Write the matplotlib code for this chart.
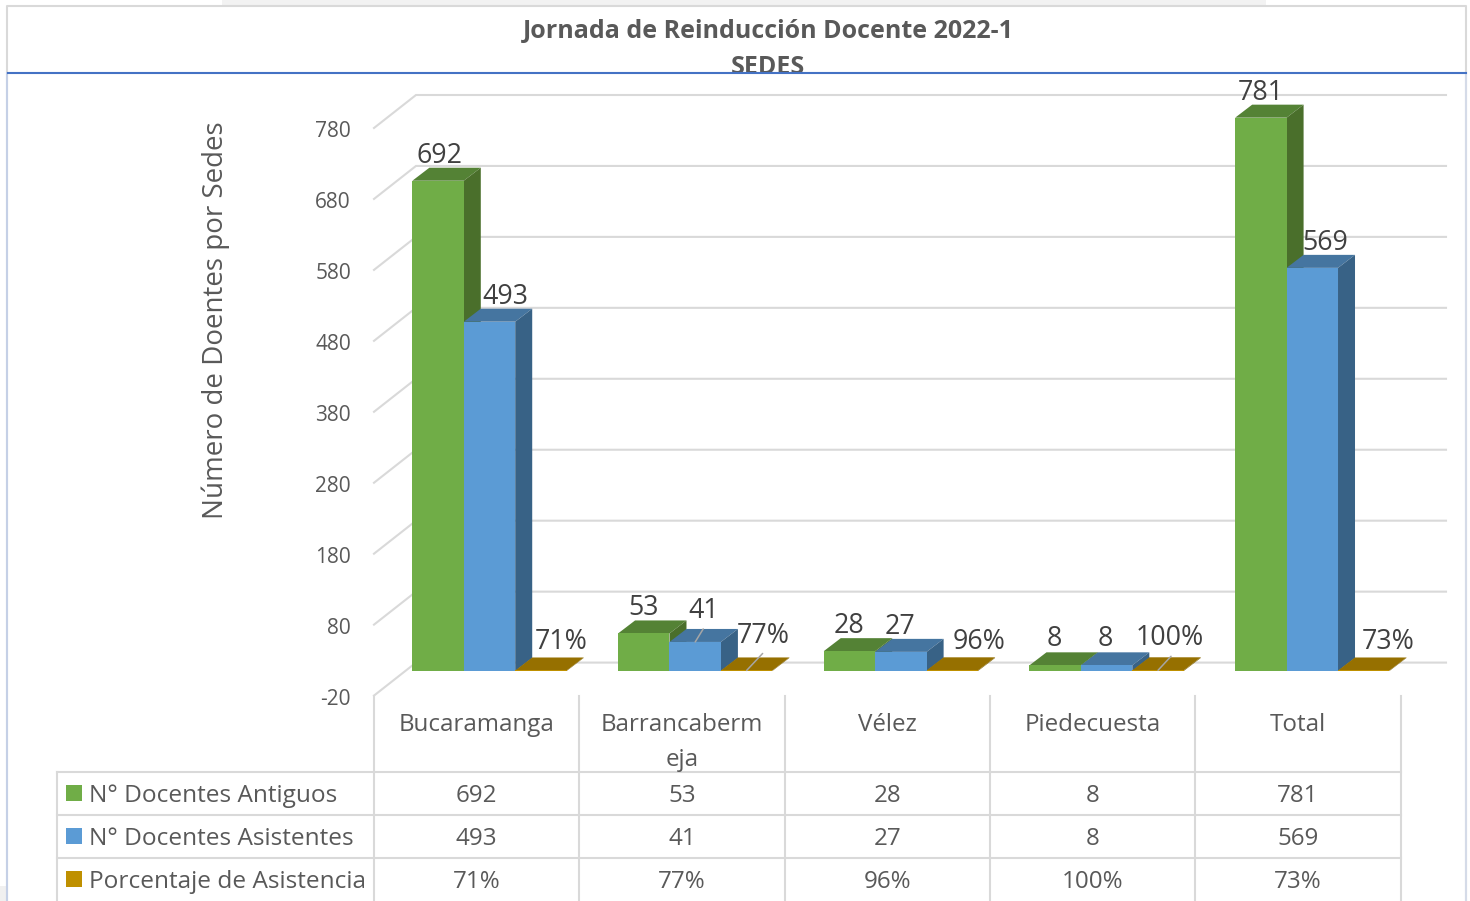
import matplotlib
matplotlib.use("Agg")
import matplotlib.pyplot as plt
from matplotlib.patches import Rectangle

plt.rcParams["font.family"] = ["Open Sans", "DejaVu Sans"]

sedes = ["Bucaramanga", "Barrancaberm\neja", "Vélez", "Piedecuesta", "Total"]
series_names = ["N° Docentes Antiguos", "N° Docentes Asistentes", "Porcentaje de Asistencia"]
antiguos = [692, 53, 28, 8, 781]
asistentes = [493, 41, 27, 8, 569]
porcentaje = [0.71, 0.77, 0.96, 1.00, 0.73]
y_ticks = [-20, 80, 180, 280, 380, 480, 580, 680, 780]

WIDTH, HEIGHT = 1470, 901
GREY = "#595959"
GRID = "#D9D9D9"

# px scale of the plot: category 0 centre at x=489.5, value 0 at y=671
PX_PER_CAT = 205.7
PX_PER_VAL = 0.7085
TICK_PX_PER_VAL = 0.7095
X0, Y0 = 489.5, 671
BAR_W = 0.25
DEPTH_X = 17 / PX_PER_CAT
DEPTH_Y = 13 / PX_PER_VAL

faces = {
    "front": ["#70AD47", "#5B9BD5", "#BF9000"],
    "top": ["#548235", "#4575A0", "#967000"],
    "side": ["#4A6F2B", "#386286", "#7F6000"],
}

# data label offsets in px from the bar's top front centre
label_dx = [
    [1, 0, 0, -1, 0],
    [16, 8, -1, -1, 13],
    [20, 17, 27, 12, 24],
]
label_dy = [
    [-25, -25, -25, -26, -25],
    [-25, -31, -25, -26, -25],
    [-28, -34, -28, -32, -28],
]


def main():
    fig = plt.figure(figsize=(WIDTH / 100, HEIGHT / 100), dpi=100)

    # chrome and table in pixel coordinates
    px = fig.add_axes([0, 0, 1, 1])
    px.set_xlim(0, WIDTH)
    px.set_ylim(HEIGHT, 0)
    px.axis("off")

    px.add_patch(Rectangle((222, 0), 1044, 5, color="#F2F2F2", lw=0))
    px.add_patch(Rectangle((0, 886), 6, 15, color="#F0F0F0", lw=0))
    px.plot([7, 7, 1466, 1466], [901, 6, 6, 901], color="#D9D9D9", lw=1.5)
    px.plot([7, 7], [73, 901], color="#C5D0E6", lw=1.5)
    px.plot([1466, 1466], [73, 901], color="#D5DBE8", lw=1.5)
    px.plot([8, 1466], [73, 73], color="#4472C4", lw=1.5, zorder=5)

    px.text(768, 31, "Jornada de Reinducción Docente 2022-1", ha="center", va="center",
            fontsize=18, fontweight="bold", color=GREY)
    px.text(768, 67, "SEDES", ha="center", va="center",
            fontsize=18, fontweight="bold", color=GREY)
    px.text(216, 320, "Número de Doentes por Sedes", rotation=90, ha="center", va="center",
            fontsize=20, color=GREY)

    # walls: gridlines sit on the back wall, 42 px right and 33 px up of the axis
    for v in y_ticks:
        y = 681.4 - v * TICK_PX_PER_VAL
        px.plot([374, 416, 1446], [y, y - 33, y - 33], color=GRID, lw=1.5,
                solid_joinstyle="miter", zorder=1)
        px.text(351, y + 4, str(v), ha="right", va="center", fontsize=15, color=GREY)

    # table
    col_x = [374, 579, 785, 990, 1195, 1401]
    row_y = [772, 815, 858]
    for x in col_x:
        px.plot([x, x], [696, 901], color=GRID, lw=1.5, zorder=1)
    px.plot([57, 57], [772, 901], color=GRID, lw=1.5, zorder=1)
    for y in row_y:
        px.plot([57, 1401], [y, y], color=GRID, lw=1.5, zorder=1)

    rows = [
        [str(v) for v in antiguos],
        [str(v) for v in asistentes],
        [f"{p:.0%}" for p in porcentaje],
    ]
    for i, name in enumerate(sedes):
        cx = (col_x[i] + col_x[i + 1]) / 2
        for k, line in enumerate(name.split("\n")):
            px.text(cx, 725 + 34.5 * k, line, ha="center", va="center", fontsize=17.4, color=GREY)
        for r, row in enumerate(rows):
            px.text(cx, 796 + 43 * r, row[i], ha="center", va="center", fontsize=17.4, color=GREY)
    for r, label in enumerate(series_names):
        yc = 793 + 43 * r
        px.add_patch(Rectangle((66, yc - 8), 16, 16, color=faces["front"][r], lw=0))
        px.text(89, yc + 3, label, ha="left", va="center", fontsize=17.6, color=GREY)

    # bars in data coordinates
    ax = fig.add_axes([0, 0, 1, 1])
    ax.patch.set_alpha(0)
    ax.set_xlim(-X0 / PX_PER_CAT, (WIDTH - X0) / PX_PER_CAT)
    ax.set_ylim(-(HEIGHT - Y0) / PX_PER_VAL, Y0 / PX_PER_VAL)
    ax.axis("off")

    all_series = [antiguos, asistentes, porcentaje]
    for j, values in enumerate(all_series):
        for i, v in enumerate(values):
            left = i + (j - 1.5) * BAR_W
            right = left + BAR_W
            ax.fill([left, right, right + DEPTH_X, left + DEPTH_X],
                    [v, v, v + DEPTH_Y, v + DEPTH_Y], color=faces["top"][j], lw=0, zorder=3)
            ax.fill([right, right + DEPTH_X, right + DEPTH_X, right],
                    [0, DEPTH_Y, v + DEPTH_Y, v], color=faces["side"][j], lw=0, zorder=3)
            ax.bar(left, v, BAR_W, align="edge", color=faces["front"][j], lw=0, zorder=4)

            text = f"{v:.0%}" if j == 2 else str(v)
            ax.annotate(text, xy=((left + right) / 2, v),
                        xytext=(label_dx[j][i] * 0.72, -label_dy[j][i] * 0.72),
                        textcoords="offset points", ha="center", va="center",
                        fontsize=19.3, color="#404040", zorder=6)

    # leader lines of the crowded labels
    for j, i, x1, y1 in [(1, 1, 8, 13), (2, 1, 16, 17), (2, 3, 13, 14)]:
        v = all_series[j][i]
        xc = i + (j - 1) * BAR_W
        ax.annotate("", xy=(xc, v), xytext=(x1 * 0.72, y1 * 0.72), textcoords="offset points",
                    arrowprops=dict(arrowstyle="-", color="#A6A6A6", lw=1.1, shrinkA=0, shrinkB=0),
                    zorder=5)

    fig.savefig("out.png", dpi=100)


if __name__ == "__main__":
    main()
